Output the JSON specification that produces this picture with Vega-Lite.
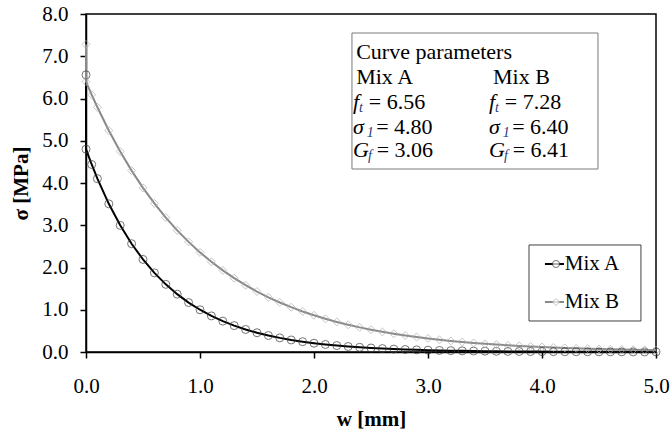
{
  "$schema": "https://vega.github.io/schema/vega-lite/v6.json",
  "width": 570,
  "height": 338,
  "autosize": {"type": "none"},
  "padding": {"left": 86, "top": 14, "right": 16, "bottom": 81},
  "background": "white",
  "config": {
    "font": "Liberation Serif",
    "view": {"stroke": "black", "strokeWidth": 1.5},
    "axis": {
      "labelFont": "Liberation Serif", "labelFontSize": 21, "labelColor": "black", "labelFlush": false,
      "titleFont": "Liberation Serif", "titleFontSize": 21, "titleFontWeight": "bold", "titleColor": "black",
      "domainColor": "black", "domainWidth": 1.5, "tickColor": "black", "tickWidth": 1.5, "tickSize": 6, "grid": false
    },
    "text": {"font": "Liberation Serif", "color": "black"}
  },
  "datasets": {
    "curves": [
      {"series": "Mix A", "i": 0, "w": 0, "s": 6.56},
      {"series": "Mix A", "i": 1, "w": 0, "s": 4.80},
      {"series": "Mix A", "i": 2, "w": 0.05, "s": 4.438},
      {"series": "Mix A", "i": 3, "w": 0.1, "s": 4.103},
      {"series": "Mix A", "i": 4, "w": 0.2, "s": 3.507},
      {"series": "Mix A", "i": 5, "w": 0.3, "s": 2.998},
      {"series": "Mix A", "i": 6, "w": 0.4, "s": 2.563},
      {"series": "Mix A", "i": 7, "w": 0.5, "s": 2.191},
      {"series": "Mix A", "i": 8, "w": 0.6, "s": 1.873},
      {"series": "Mix A", "i": 9, "w": 0.7, "s": 1.601},
      {"series": "Mix A", "i": 10, "w": 0.8, "s": 1.369},
      {"series": "Mix A", "i": 11, "w": 0.9, "s": 1.170},
      {"series": "Mix A", "i": 12, "w": 1.0, "s": 1.000},
      {"series": "Mix A", "i": 13, "w": 1.1, "s": 0.855},
      {"series": "Mix A", "i": 14, "w": 1.2, "s": 0.731},
      {"series": "Mix A", "i": 15, "w": 1.3, "s": 0.625},
      {"series": "Mix A", "i": 16, "w": 1.4, "s": 0.534},
      {"series": "Mix A", "i": 17, "w": 1.5, "s": 0.456},
      {"series": "Mix A", "i": 18, "w": 1.6, "s": 0.390},
      {"series": "Mix A", "i": 19, "w": 1.7, "s": 0.334},
      {"series": "Mix A", "i": 20, "w": 1.8, "s": 0.285},
      {"series": "Mix A", "i": 21, "w": 1.9, "s": 0.244},
      {"series": "Mix A", "i": 22, "w": 2.0, "s": 0.208},
      {"series": "Mix A", "i": 23, "w": 2.1, "s": 0.178},
      {"series": "Mix A", "i": 24, "w": 2.2, "s": 0.152},
      {"series": "Mix A", "i": 25, "w": 2.3, "s": 0.130},
      {"series": "Mix A", "i": 26, "w": 2.4, "s": 0.111},
      {"series": "Mix A", "i": 27, "w": 2.5, "s": 0.095},
      {"series": "Mix A", "i": 28, "w": 2.6, "s": 0.081},
      {"series": "Mix A", "i": 29, "w": 2.7, "s": 0.069},
      {"series": "Mix A", "i": 30, "w": 2.8, "s": 0.059},
      {"series": "Mix A", "i": 31, "w": 2.9, "s": 0.051},
      {"series": "Mix A", "i": 32, "w": 3.0, "s": 0.043},
      {"series": "Mix A", "i": 33, "w": 3.1, "s": 0.037},
      {"series": "Mix A", "i": 34, "w": 3.2, "s": 0.032},
      {"series": "Mix A", "i": 35, "w": 3.3, "s": 0.027},
      {"series": "Mix A", "i": 36, "w": 3.4, "s": 0.023},
      {"series": "Mix A", "i": 37, "w": 3.5, "s": 0.020},
      {"series": "Mix A", "i": 38, "w": 3.6, "s": 0.017},
      {"series": "Mix A", "i": 39, "w": 3.7, "s": 0.014},
      {"series": "Mix A", "i": 40, "w": 3.8, "s": 0.012},
      {"series": "Mix A", "i": 41, "w": 3.9, "s": 0.011},
      {"series": "Mix A", "i": 42, "w": 4.0, "s": 0.009},
      {"series": "Mix A", "i": 43, "w": 4.1, "s": 0.008},
      {"series": "Mix A", "i": 44, "w": 4.2, "s": 0.007},
      {"series": "Mix A", "i": 45, "w": 4.3, "s": 0.006},
      {"series": "Mix A", "i": 46, "w": 4.4, "s": 0.005},
      {"series": "Mix A", "i": 47, "w": 4.5, "s": 0.004},
      {"series": "Mix A", "i": 48, "w": 4.6, "s": 0.004},
      {"series": "Mix A", "i": 49, "w": 4.7, "s": 0.003},
      {"series": "Mix A", "i": 50, "w": 4.8, "s": 0.003},
      {"series": "Mix A", "i": 51, "w": 4.9, "s": 0.002},
      {"series": "Mix A", "i": 52, "w": 5.0, "s": 0.002},
      {"series": "Mix B", "i": 0, "w": 0, "s": 7.28},
      {"series": "Mix B", "i": 1, "w": 0, "s": 6.40},
      {"series": "Mix B", "i": 2, "w": 0.05, "s": 6.088},
      {"series": "Mix B", "i": 3, "w": 0.1, "s": 5.792},
      {"series": "Mix B", "i": 4, "w": 0.2, "s": 5.242},
      {"series": "Mix B", "i": 5, "w": 0.3, "s": 4.744},
      {"series": "Mix B", "i": 6, "w": 0.4, "s": 4.293},
      {"series": "Mix B", "i": 7, "w": 0.5, "s": 3.885},
      {"series": "Mix B", "i": 8, "w": 0.6, "s": 3.516},
      {"series": "Mix B", "i": 9, "w": 0.7, "s": 3.182},
      {"series": "Mix B", "i": 10, "w": 0.8, "s": 2.879},
      {"series": "Mix B", "i": 11, "w": 0.9, "s": 2.606},
      {"series": "Mix B", "i": 12, "w": 1.0, "s": 2.358},
      {"series": "Mix B", "i": 13, "w": 1.1, "s": 2.134},
      {"series": "Mix B", "i": 14, "w": 1.2, "s": 1.931},
      {"series": "Mix B", "i": 15, "w": 1.3, "s": 1.748},
      {"series": "Mix B", "i": 16, "w": 1.4, "s": 1.582},
      {"series": "Mix B", "i": 17, "w": 1.5, "s": 1.431},
      {"series": "Mix B", "i": 18, "w": 1.6, "s": 1.295},
      {"series": "Mix B", "i": 19, "w": 1.7, "s": 1.172},
      {"series": "Mix B", "i": 20, "w": 1.8, "s": 1.061},
      {"series": "Mix B", "i": 21, "w": 1.9, "s": 0.960},
      {"series": "Mix B", "i": 22, "w": 2.0, "s": 0.869},
      {"series": "Mix B", "i": 23, "w": 2.1, "s": 0.786},
      {"series": "Mix B", "i": 24, "w": 2.2, "s": 0.712},
      {"series": "Mix B", "i": 25, "w": 2.3, "s": 0.644},
      {"series": "Mix B", "i": 26, "w": 2.4, "s": 0.583},
      {"series": "Mix B", "i": 27, "w": 2.5, "s": 0.527},
      {"series": "Mix B", "i": 28, "w": 2.6, "s": 0.477},
      {"series": "Mix B", "i": 29, "w": 2.7, "s": 0.432},
      {"series": "Mix B", "i": 30, "w": 2.8, "s": 0.391},
      {"series": "Mix B", "i": 31, "w": 2.9, "s": 0.354},
      {"series": "Mix B", "i": 32, "w": 3.0, "s": 0.320},
      {"series": "Mix B", "i": 33, "w": 3.1, "s": 0.290},
      {"series": "Mix B", "i": 34, "w": 3.2, "s": 0.262},
      {"series": "Mix B", "i": 35, "w": 3.3, "s": 0.237},
      {"series": "Mix B", "i": 36, "w": 3.4, "s": 0.215},
      {"series": "Mix B", "i": 37, "w": 3.5, "s": 0.194},
      {"series": "Mix B", "i": 38, "w": 3.6, "s": 0.176},
      {"series": "Mix B", "i": 39, "w": 3.7, "s": 0.159},
      {"series": "Mix B", "i": 40, "w": 3.8, "s": 0.144},
      {"series": "Mix B", "i": 41, "w": 3.9, "s": 0.130},
      {"series": "Mix B", "i": 42, "w": 4.0, "s": 0.118},
      {"series": "Mix B", "i": 43, "w": 4.1, "s": 0.107},
      {"series": "Mix B", "i": 44, "w": 4.2, "s": 0.097},
      {"series": "Mix B", "i": 45, "w": 4.3, "s": 0.087},
      {"series": "Mix B", "i": 46, "w": 4.4, "s": 0.079},
      {"series": "Mix B", "i": 47, "w": 4.5, "s": 0.072},
      {"series": "Mix B", "i": 48, "w": 4.6, "s": 0.065},
      {"series": "Mix B", "i": 49, "w": 4.7, "s": 0.059},
      {"series": "Mix B", "i": 50, "w": 4.8, "s": 0.053},
      {"series": "Mix B", "i": 51, "w": 4.9, "s": 0.048},
      {"series": "Mix B", "i": 52, "w": 5.0, "s": 0.043}
    ],
    "box": [{"x1": 2.333, "x2": 4.491, "y1": 7.55, "y2": 4.331}],
    "plain": [
      {"x": 2.37, "y": 7.10, "t": "Curve parameters"},
      {"x": 2.37, "y": 6.51, "t": "Mix A"},
      {"x": 3.57, "y": 6.51, "t": "Mix B"},
      {"x": 2.48, "y": 5.92, "t": "= 6.56"},
      {"x": 2.545, "y": 5.33, "t": "= 4.80"},
      {"x": 2.55, "y": 4.78, "t": "= 3.06"},
      {"x": 3.673, "y": 5.92, "t": "= 7.28"},
      {"x": 3.738, "y": 5.33, "t": "= 6.40"},
      {"x": 3.743, "y": 4.78, "t": "= 6.41"}
    ],
    "sym": [
      {"x": 2.342, "y": 5.92, "t": "f"},
      {"x": 2.342, "y": 5.33, "t": "σ"},
      {"x": 2.342, "y": 4.78, "t": "G"},
      {"x": 3.535, "y": 5.92, "t": "f"},
      {"x": 3.535, "y": 5.33, "t": "σ"},
      {"x": 3.535, "y": 4.78, "t": "G"}
    ],
    "sub": [
      {"x": 2.395, "y": 5.78, "t": "t"},
      {"x": 2.462, "y": 5.19, "t": "1"},
      {"x": 2.474, "y": 4.64, "t": "f"},
      {"x": 3.588, "y": 5.78, "t": "t"},
      {"x": 3.655, "y": 5.19, "t": "1"},
      {"x": 3.667, "y": 4.64, "t": "f"}
    ],
    "legbox": [{"x1": 3.886, "x2": 4.868, "y1": 2.533, "y2": 0.734}],
    "legend": [
      {"series": "Mix A", "xa": 4.026, "xb": 4.193, "xm": 4.123, "xt": 4.20, "y": 2.083},
      {"series": "Mix B", "xa": 4.026, "xb": 4.193, "xm": 4.123, "xt": 4.20, "y": 1.183}
    ]
  },
  "layer": [
    {
      "data": {"name": "curves"},
      "mark": {"type": "line", "strokeWidth": 2},
      "encoding": {
        "x": {"field": "w", "type": "quantitative", "scale": {"domain": [0, 5], "nice": false}, "axis": {"title": "w [mm]", "values": [0, 1, 2, 3, 4, 5], "format": ".1f", "labelFont": "Liberation Serif", "labelFlush": false, "labelPadding": 17, "titlePadding": 12}},
        "y": {"field": "s", "type": "quantitative", "scale": {"domain": [0, 8], "nice": false}, "axis": {"title": "σ [MPa]", "values": [0, 1, 2, 3, 4, 5, 6, 7, 8], "format": ".1f", "labelFont": "Liberation Serif", "labelFlush": false, "labelPadding": 12, "titlePadding": 10}},
        "order": {"field": "i", "type": "quantitative"},
        "detail": {"field": "series"},
        "color": {"field": "series", "type": "nominal", "scale": {"domain": ["Mix A", "Mix B"], "range": ["#000000", "#8a8a8a"]}, "legend": null}
      }
    },
    {
      "data": {"name": "curves"},
      "mark": {"type": "point", "filled": false, "strokeWidth": 1, "size": 64},
      "encoding": {
        "x": {"field": "w", "type": "quantitative"},
        "y": {"field": "s", "type": "quantitative"},
        "shape": {"field": "series", "type": "nominal", "scale": {"domain": ["Mix A", "Mix B"], "range": ["circle", "diamond"]}, "legend": null},
        "stroke": {"field": "series", "type": "nominal", "scale": {"domain": ["Mix A", "Mix B"], "range": ["#3a3a3a", "#b0b0b0"]}, "legend": null}
      }
    },
    {
      "data": {"name": "box"},
      "mark": {"type": "rect", "fill": "white", "stroke": "#7a7a7a", "strokeWidth": 1},
      "encoding": {
        "x": {"field": "x1", "type": "quantitative"},
        "x2": {"field": "x2"},
        "y": {"field": "y1", "type": "quantitative"},
        "y2": {"field": "y2"}
      }
    },
    {
      "data": {"name": "plain"},
      "mark": {"type": "text", "align": "left", "baseline": "middle", "fontSize": 22},
      "encoding": {
        "x": {"field": "x", "type": "quantitative"},
        "y": {"field": "y", "type": "quantitative"},
        "text": {"field": "t"}
      }
    },
    {
      "data": {"name": "sym"},
      "mark": {"type": "text", "align": "left", "baseline": "middle", "fontSize": 22, "fontStyle": "italic"},
      "encoding": {
        "x": {"field": "x", "type": "quantitative"},
        "y": {"field": "y", "type": "quantitative"},
        "text": {"field": "t"}
      }
    },
    {
      "data": {"name": "sub"},
      "mark": {"type": "text", "align": "left", "baseline": "middle", "fontSize": 14, "fontStyle": "italic", "color": "#1f3a7a"},
      "encoding": {
        "x": {"field": "x", "type": "quantitative"},
        "y": {"field": "y", "type": "quantitative"},
        "text": {"field": "t"}
      }
    },
    {
      "data": {"name": "legbox"},
      "mark": {"type": "rect", "fill": "white", "stroke": "#404040", "strokeWidth": 1},
      "encoding": {
        "x": {"field": "x1", "type": "quantitative"},
        "x2": {"field": "x2"},
        "y": {"field": "y1", "type": "quantitative"},
        "y2": {"field": "y2"}
      }
    },
    {
      "data": {"name": "legend"},
      "mark": {"type": "rule", "strokeWidth": 2},
      "encoding": {
        "x": {"field": "xa", "type": "quantitative"},
        "x2": {"field": "xb"},
        "y": {"field": "y", "type": "quantitative"},
        "color": {"field": "series", "type": "nominal", "legend": null}
      }
    },
    {
      "data": {"name": "legend"},
      "mark": {"type": "point", "filled": true, "fill": "white", "strokeWidth": 1, "size": 50},
      "encoding": {
        "x": {"field": "xm", "type": "quantitative"},
        "y": {"field": "y", "type": "quantitative"},
        "shape": {"field": "series", "type": "nominal", "legend": null},
        "stroke": {"field": "series", "type": "nominal", "legend": null}
      }
    },
    {
      "data": {"name": "legend"},
      "mark": {"type": "text", "align": "left", "baseline": "middle", "fontSize": 21},
      "encoding": {
        "x": {"field": "xt", "type": "quantitative"},
        "y": {"field": "y", "type": "quantitative"},
        "text": {"field": "series"}
      }
    }
  ]
}
